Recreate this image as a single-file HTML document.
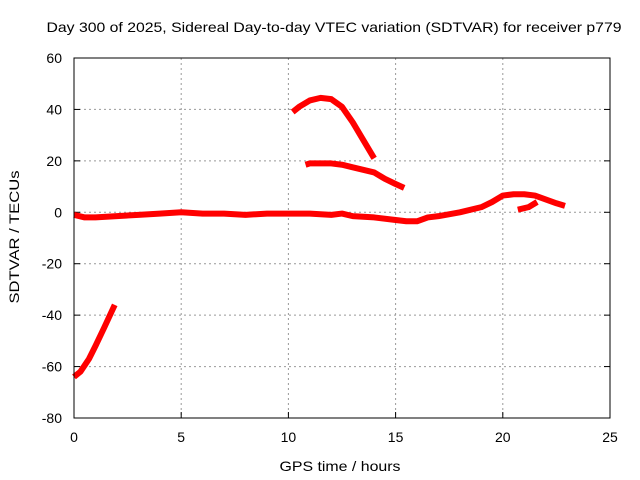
<!DOCTYPE html>
<html><head><meta charset="utf-8"><style>
body{margin:0;background:#fff;}
svg{display:block;font-family:"Liberation Sans",sans-serif;}
</style></head><body>
<svg id="chart" width="640" height="480" viewBox="0 0 640 480">
<text x="334" y="32" font-size="14" text-anchor="middle" textLength="575" lengthAdjust="spacingAndGlyphs">Day 300 of 2025, Sidereal Day-to-day VTEC variation (SDTVAR) for receiver p779</text>
<text x="340" y="471" font-size="14" text-anchor="middle" textLength="121" lengthAdjust="spacingAndGlyphs">GPS time / hours</text>
<text transform="translate(19,237) rotate(-90)" font-size="14" text-anchor="middle" textLength="133" lengthAdjust="spacingAndGlyphs">SDTVAR / TECUs</text>
<g id="grid"></g><g id="series"></g>
<rect x="74" y="58" width="536" height="360" fill="none" stroke="#000" stroke-width="1"/>
</svg>
<script>
const xTicks=[0,5,10,15,20,25];
const yTicks=[-80,-60,-40,-20,0,20,40,60];
const mainX=[0,0.5,1,2,3,4,5,6,7,8,9,10,11,12,12.5,13,14,15,15.5,16,16.5,17,18,19,19.5,20,20.5,21,21.5,22,22.5,22.9];
const mainY=[-1,-2,-2,-1.5,-1,-0.5,0,-0.5,-0.5,-1,-0.5,-0.5,-0.5,-1,-0.5,-1.5,-2,-3,-3.5,-3.5,-2,-1.5,0,2,4,6.5,7,7,6.5,5,3.5,2.5];
const branchX=[20.7,21.2,21.6];
const branchY=[1,2,4];
const arcX=[10.2,10.5,11,11.5,12,12.5,13,13.5,14];
const arcY=[39,41,43.5,44.5,44,41,35,28,21];
const midX=[10.8,11,12,12.5,13,14,14.5,15,15.4];
const midY=[18.5,19,19,18.5,17.5,15.5,13,11,9.5];
const negX=[0,0.3,0.7,1,1.4,1.9];
const negY=[-64,-62,-57,-52,-45,-36];
const X0=74,X1=610,Y0=418,Y1=58;
const sx=h=>X0+(h-0)/(25-0)*(X1-X0);
const sy=v=>Y0-(v+80)/(140)*(Y0-Y1);
const NS='http://www.w3.org/2000/svg';
const grid=document.getElementById('grid'),ser=document.getElementById('series');
function mk(t,a,p){const e=document.createElementNS(NS,t);for(const k in a)e.setAttribute(k,a[k]);p.appendChild(e);return e;}
xTicks.forEach(t=>{const x=sx(t);
 if(t>0&&t<25){const l=mk('line',{x1:x,x2:x,y1:Y1,y2:Y0,stroke:'#999','stroke-dasharray':'2,3'},grid);
 
 }
 const tk=mk('line',{x1:x,x2:x,y1:Y0,y2:Y0-6,stroke:'#000'},grid);
 
 
 const tx=mk('text',{x:x,y:Y0+24,'font-size':14,'text-anchor':'middle'},grid);tx.textContent=t;
 
 
});
yTicks.forEach(t=>{const y=sy(t);
 if(t>-80&&t<60){const l=mk('line',{x1:X0,x2:X1,y1:y,y2:y,stroke:'#999','stroke-dasharray':'2,3'},grid);
 
 }
 const tk=mk('line',{x1:X0,x2:X0+6,y1:y,y2:y,stroke:'#000'},grid);
 
 
 const tk2=mk('line',{x1:X1,x2:X1-6,y1:y,y2:y,stroke:'#000'},grid);
 
 
 const tx=mk('text',{x:X0-12,y:y+5,'font-size':14,'text-anchor':'end'},grid);tx.textContent=t;
 
 
});
function line(xs,ys,name){const pts=xs.map((x,i)=>sx(x)+','+sy(ys[i])).join(' ');
 const p=mk('polyline',{points:pts,fill:'none',stroke:'#f00','stroke-width':6,'stroke-linejoin':'round','stroke-linecap':'butt'},ser);
 
 }
line(mainX,mainY,'series-main-track');
line(branchX,branchY,'series-branch-track');
line(arcX,arcY,'series-arc-track');
line(midX,midY,'series-mid-track');
line(negX,negY,'series-negative-track');
</script>
</body></html>
